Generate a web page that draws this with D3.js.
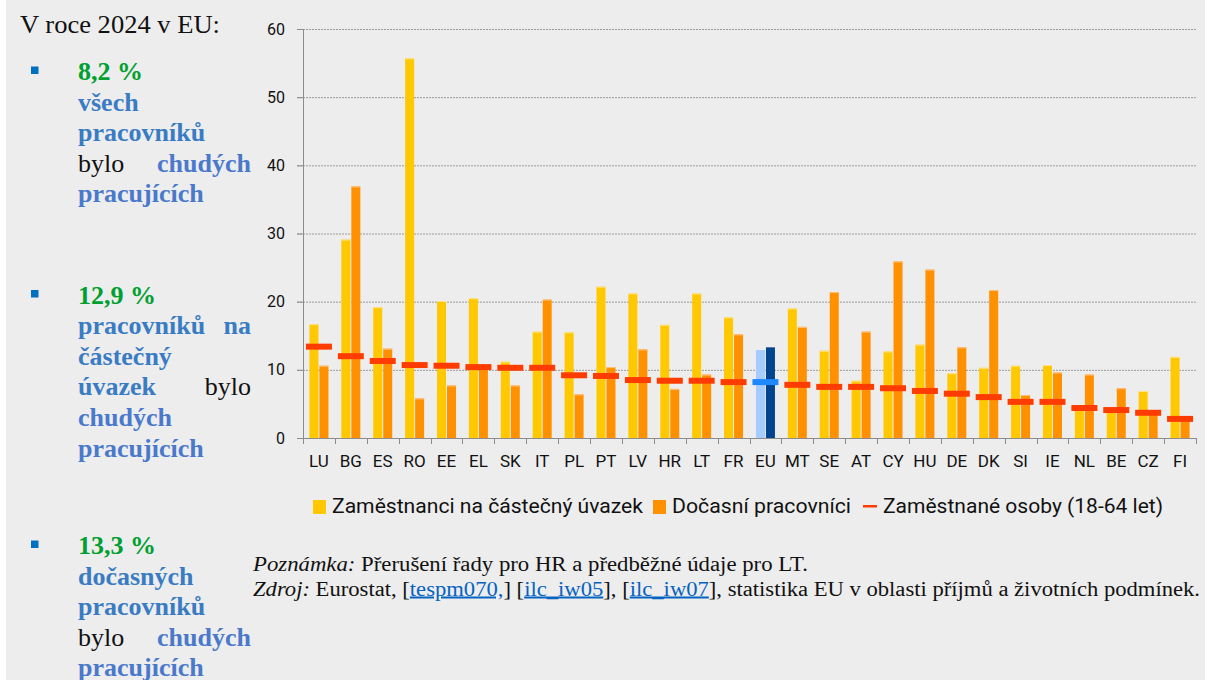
<!DOCTYPE html>
<html>
<head>
<meta charset="utf-8">
<script src="https://cdn.jsdelivr.net/npm/d3@7"></script>
<style>
    body { margin: 0; background: #ffffff; }
    svg { display: block; }
</style>
</head>
<body>
<div id="graph"></div>
<script>
// Chart data
const countries = ["LU", "BG", "ES", "RO", "EE", "EL", "SK", "IT", "PL", "PT", "LV", "HR", "LT", "FR", "EU",
    "MT", "SE", "AT", "CY", "HU", "DE", "DK", "SI", "IE", "NL", "BE", "CZ", "FI"];
const partTime = [16.7, 29.1, 19.2, 55.7, 20.1, 20.5, 11.2, 15.6, 15.5, 22.2, 21.2, 16.6, 21.2, 17.7, 12.9,
    19.0, 12.8, 8.4, 12.7, 13.7, 9.5, 10.3, 10.6, 10.7, 4.3, 4.0, 6.9, 11.9];
const temporary = [10.6, 36.9, 13.1, 5.8, 7.7, 10.2, 7.7, 20.3, 6.4, 10.4, 13.0, 7.2, 9.3, 15.2, 13.3,
    16.3, 21.4, 15.6, 25.9, 24.7, 13.3, 21.7, 6.3, 9.6, 9.3, 7.3, 3.5, 2.5];
const employed = [13.4, 12.0, 11.3, 10.7, 10.6, 10.4, 10.3, 10.3, 9.2, 9.1, 8.5, 8.4, 8.4, 8.2, 8.2,
    7.8, 7.5, 7.5, 7.3, 6.9, 6.5, 6.0, 5.3, 5.3, 4.4, 4.1, 3.7, 2.8];
const yTicks = [0, 10, 20, 30, 40, 50, 60];
const seriesNames = ["Zaměstnanci na částečný úvazek", "Dočasní pracovníci", "Zaměstnané osoby (18-64 let)"];

const WIDTH = 1205, HEIGHT = 680;
const plot = {left: 303, right: 1196, top: 29, bottom: 438};

const colors = {
    part: "#ffc800", partEdge: "#ffe38a",
    temp: "#ff9100", tempEdge: "#ffc07a",
    line: "#ff3c00",
    euPart: "#a6ccff", euTemp: "#00448f", euLine: "#1e88ff",
    grid: "#9a9a9a", axis: "#8c8c8c"
};

let svg = d3.select("#graph")
    .append("svg")
    .attr("width", WIDTH)
    .attr("height", HEIGHT);

// grey panel
svg.append("rect")
    .attr("x", 6).attr("y", 0)
    .attr("width", WIDTH - 6).attr("height", HEIGHT)
    .attr("fill", "#ededed");

let x = d3.scaleBand()
    .domain(countries)
    .range([plot.left, plot.right]);

let y = d3.scaleLinear()
    .domain([0, 60])
    .range([plot.bottom, plot.top]);

// two bars per country, 9px wide with a 1px gap
let bw = x.bandwidth();
let xInner = d3.scaleBand()
    .domain(["part", "temp"])
    .range([bw / 2 - 9.5, bw / 2 + 9.5])
    .paddingInner(0.1);

// gridlines
svg.append("g")
    .selectAll("line")
    .data(yTicks.filter(d => d > 0))
    .enter()
    .append("line")
    .attr("x1", plot.left - 6)
    .attr("x2", plot.right)
    .attr("y1", d => y(d) + 0.5)
    .attr("y2", d => y(d) + 0.5)
    .attr("stroke", colors.grid)
    .attr("stroke-width", 1)
    .attr("stroke-dasharray", "2,1");

// y axis
let yAxis = svg.append("g")
    .attr("transform", `translate(${plot.left}, 0)`)
    .call(d3.axisLeft(y).tickValues(yTicks).tickSize(6).tickPadding(12));
yAxis.select(".domain").attr("stroke", colors.axis);
yAxis.selectAll(".tick line").attr("stroke", colors.axis);
yAxis.selectAll("text")
    .attr("fill", "#111")
    .style("font-family", "Roboto, 'Liberation Sans', sans-serif")
    .style("font-size", "16px");

let rows = countries.map((c, i) => ({c: c, part: partTime[i], temp: temporary[i], emp: employed[i]}));

// part-time bars
svg.append("g")
    .selectAll("rect")
    .data(rows)
    .enter()
    .append("rect")
    .attr("x", d => x(d.c) + xInner("part"))
    .attr("y", d => y(d.part))
    .attr("width", xInner.bandwidth())
    .attr("height", d => y(0) - y(d.part))
    .attr("fill", d => d.c == "EU" ? colors.euPart : colors.part);

// temporary bars
svg.append("g")
    .selectAll("rect")
    .data(rows)
    .enter()
    .append("rect")
    .attr("x", d => x(d.c) + xInner("temp"))
    .attr("y", d => y(d.temp))
    .attr("width", xInner.bandwidth())
    .attr("height", d => y(0) - y(d.temp))
    .attr("fill", d => d.c == "EU" ? colors.euTemp : colors.temp);

// light top edge on the bars
svg.append("g")
    .selectAll("line")
    .data(rows.filter(d => d.c != "EU"))
    .enter()
    .append("line")
    .attr("x1", d => x(d.c) + xInner("part"))
    .attr("x2", d => x(d.c) + xInner("part") + xInner.bandwidth())
    .attr("y1", d => y(d.part) + 0.5)
    .attr("y2", d => y(d.part) + 0.5)
    .attr("stroke", colors.partEdge);
svg.append("g")
    .selectAll("line")
    .data(rows.filter(d => d.c != "EU"))
    .enter()
    .append("line")
    .attr("x1", d => x(d.c) + xInner("temp"))
    .attr("x2", d => x(d.c) + xInner("temp") + xInner.bandwidth())
    .attr("y1", d => y(d.temp) + 0.5)
    .attr("y2", d => y(d.temp) + 0.5)
    .attr("stroke", colors.tempEdge);

// employed persons markers
svg.append("g")
    .selectAll("rect")
    .data(rows)
    .enter()
    .append("rect")
    .attr("x", d => x(d.c) + bw / 2 - 13)
    .attr("y", d => y(d.emp) - 3)
    .attr("width", 26)
    .attr("height", 6)
    .attr("fill", d => d.c == "EU" ? colors.euLine : colors.line);

// x axis
let xAxis = svg.append("g")
    .attr("transform", `translate(0, ${plot.bottom})`)
    .call(d3.axisBottom(x).tickSize(0).tickPadding(17));
xAxis.select(".domain").remove();
xAxis.selectAll("text")
    .attr("fill", "#111")
    .style("font-family", "Roboto, 'Liberation Sans', sans-serif")
    .style("font-size", "17px");

svg.append("line")
    .attr("x1", plot.left - 6).attr("x2", plot.right)
    .attr("y1", plot.bottom + 0.5).attr("y2", plot.bottom + 0.5)
    .attr("stroke", colors.axis);

// x tick marks at the band edges
svg.append("g")
    .selectAll("line")
    .data(countries.map(c => x(c)).concat([plot.right]))
    .enter()
    .append("line")
    .attr("x1", d => Math.round(d) + 0.5)
    .attr("x2", d => Math.round(d) + 0.5)
    .attr("y1", plot.bottom)
    .attr("y2", plot.bottom + 6)
    .attr("stroke", colors.axis);

// Legend
let legendFont = "Roboto, 'Liberation Sans', sans-serif";
let legendItems = [
    {name: seriesNames[0], mark: "box", color: colors.part, mx: 313, tx: 332, tw: 311},
    {name: seriesNames[1], mark: "box", color: colors.temp, mx: 653, tx: 672, tw: 179},
    {name: seriesNames[2], mark: "dash", color: colors.line, mx: 863, tx: 883, tw: 280}
];
let legend = svg.append("g");
legendItems.forEach(function(d) {
    if (d.mark == "box") {
        legend.append("rect")
            .attr("x", d.mx).attr("y", 500)
            .attr("width", 13).attr("height", 14)
            .attr("fill", d.color);
    } else {
        legend.append("rect")
            .attr("x", d.mx).attr("y", 505)
            .attr("width", 14).attr("height", 2.5)
            .attr("fill", d.color);
    }
    legend.append("text")
        .attr("x", d.tx).attr("y", 513)
        .attr("textLength", d.tw)
        .attr("lengthAdjust", "spacingAndGlyphs")
        .style("font-family", legendFont)
        .style("font-size", "20px")
        .attr("fill", "#111")
        .text(d.name);
});

// Left text panel
const serif = "'Liberation Serif', 'Times New Roman', serif";
svg.append("text")
    .attr("x", 20).attr("y", 33)
    .attr("textLength", 200)
    .attr("lengthAdjust", "spacingAndGlyphs")
    .style("font-family", serif)
    .style("font-size", "26px")
    .attr("fill", "#111")
    .text("V roce 2024 v EU:");

const textColors = {g: "#00a030", b: "#3a7cc3", c: "#4a79cc", k: "#111111"};
const blocks = [
    {top: 80, lines: [
        [["8,2 %", "g"]],
        [["všech", "b"]],
        [["pracovníků", "b"]],
        [["bylo", "k"], ["chudých", "c"]],
        [["pracujících", "c"]]
    ]},
    {top: 303.5, lines: [
        [["12,9 %", "g"]],
        [["pracovníků", "b"], ["na", "b"]],
        [["částečný", "b"]],
        [["úvazek", "b"], ["bylo", "k"]],
        [["chudých", "c"]],
        [["pracujících", "c"]]
    ]},
    {top: 554, lines: [
        [["13,3 %", "g"]],
        [["dočasných", "b"]],
        [["pracovníků", "b"]],
        [["bylo", "k"], ["chudých", "c"]],
        [["pracujících", "c"]]
    ]}
];
blocks.forEach(function(b) {
    svg.append("rect")
        .attr("x", 31).attr("y", b.top - 13.5)
        .attr("width", 7.5).attr("height", 7.5)
        .attr("fill", "#0070c0");
    b.lines.forEach(function(line, i) {
        line.forEach(function(word, j) {
            svg.append("text")
                .attr("x", j == 0 ? 78 : 251)
                .attr("y", b.top + i * 30.6)
                .attr("text-anchor", j == 0 ? "start" : "end")
                .style("font-family", serif)
                .style("font-size", "26px")
                .style("font-weight", word[1] == "k" ? "normal" : "bold")
                .attr("fill", textColors[word[1]])
                .text(word[0]);
        });
    });
});

// Notes and source
const noteLines = [
    [["Poznámka:", "i"], [" Přerušení řady pro HR a předběžné údaje pro LT.", "n"]],
    [["Zdroj:", "i"], [" Eurostat, [", "n"], ["tespm070,", "a"], ["] [", "n"], ["ilc_iw05", "a"],
        ["], [", "n"], ["ilc_iw07", "a"], ["], statistika EU v oblasti příjmů a životních podmínek.", "n"]]
];
const noteWidths = [555, 947];
noteLines.forEach(function(line, i) {
    let t = svg.append("text")
        .attr("x", 253)
        .attr("y", 571 + i * 24.5)
        .attr("textLength", noteWidths[i])
        .attr("lengthAdjust", "spacingAndGlyphs")
        .style("font-family", serif)
        .style("font-size", "20px")
        .attr("fill", "#111");
    line.forEach(function(part) {
        let s = t.append("tspan").text(part[0]);
        if (part[1] == "i") s.style("font-style", "italic");
        if (part[1] == "a") s.attr("fill", "#0563c1").style("text-decoration", "underline");
    });
});
</script>
</body>
</html>
